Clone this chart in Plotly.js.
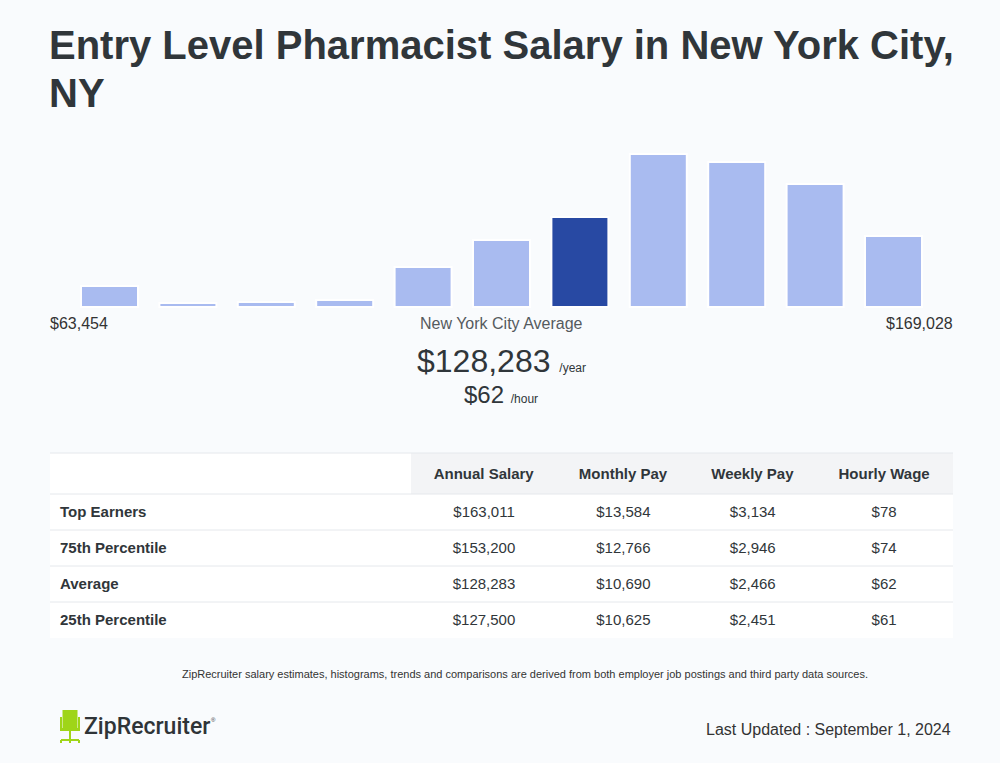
<!DOCTYPE html>
<html>
<head>
<meta charset="utf-8">
<script src="https://cdn.plot.ly/plotly-3.0.1.min.js"></script>
<style>
  html, body { margin: 0; padding: 0; background: #f9fbfd; }
  #chart { width: 1000px; height: 763px; }
</style>
</head>
<body>
<div id="chart"></div>
<script>
// ---- Data ----
const binIndex = [0,1,2,3,4,5,6,7,8,9,10];
const binHeights = [21, 4, 5, 7, 40, 67, 90, 153, 145, 123, 71];
const averageBin = 6;
const minLabel = "$63,454";
const maxLabel = "$169,028";
const avgLabel = "New York City Average";
const annualAvg = "$128,283";
const hourlyAvg = "$62";

const tableHeader = ["", "Annual Salary", "Monthly Pay", "Weekly Pay", "Hourly Wage"];
const rowLabels = ["Top Earners", "75th Percentile", "Average", "25th Percentile"];
const annualCol = ["$163,011", "$153,200", "$128,283", "$127,500"];
const monthlyCol = ["$13,584", "$12,766", "$10,690", "$10,625"];
const weeklyCol = ["$3,134", "$2,946", "$2,466", "$2,451"];
const hourlyCol = ["$78", "$74", "$62", "$61"];

const titleLines = ["Entry Level Pharmacist Salary in New York City,", "NY"];
const footnote = "ZipRecruiter salary estimates, histograms, trends and comparisons are derived from both employer job postings and third party data sources.";
const updated = "Last Updated : September 1, 2024";

// ---- Helpers (pixel -> paper) ----
const W = 1000, H = 763;
const px = x => x / W;
const py = y => 1 - y / H;

const FONT = "Liberation Sans, Arial, Helvetica, sans-serif";
const DARK = "#30363a";

const barColors = binIndex.map(i => i === averageBin ? "#2849a3" : "#a9bbf0");

const bars = {
  type: "bar",
  x: binIndex,
  y: binHeights,
  marker: { color: barColors, line: { color: "#ffffff", width: 2 } },
  hoverinfo: "skip",
  xaxis: "x", yaxis: "y"
};

const TSHIFT = 4;
const table = {
  type: "table",
  domain: { x: [px(52), px(953)], y: [py(638 + TSHIFT), py(453 + TSHIFT)] },
  columnwidth: [359, 147, 132, 127, 136],
  header: {
    values: tableHeader.map(v => v ? "<b>" + v + "</b>" : ""),
    align: ["left", "center", "center", "center", "center"],
    fill: { color: "rgba(0,0,0,0)" },
    line: { width: 0, color: "rgba(0,0,0,0)" },
    font: { family: FONT, size: 15, color: DARK },
    height: 41
  },
  cells: {
    values: [rowLabels, annualCol, monthlyCol, weeklyCol, hourlyCol],
    align: ["left", "center", "center", "center", "center"],
    fill: { color: "rgba(0,0,0,0)" },
    line: { width: 0, color: "rgba(0,0,0,0)" },
    font: { family: FONT, size: 15, color: DARK, weight: ["bold", "normal", "normal", "normal", "normal"] },
    height: 36
  }
};

const shapes = [];
// table backgrounds
shapes.push({ type: "rect", xref: "paper", yref: "paper", layer: "below",
  x0: px(50), x1: px(953), y0: py(638), y1: py(453), fillcolor: "#ffffff", line: { width: 0 } });
shapes.push({ type: "rect", xref: "paper", yref: "paper", layer: "below",
  x0: px(411), x1: px(953), y0: py(494), y1: py(453), fillcolor: "#f3f4f6", line: { width: 0 } });
// table horizontal rules
[453, 494, 530, 566, 602].forEach(y => {
  shapes.push({ type: "line", xref: "paper", yref: "paper",
    x0: px(50), x1: px(953), y0: py(y), y1: py(y),
    line: { color: "#e5e8ec", width: 1 }, layer: "below" });
});

// ZipRecruiter chair logo
const G = "#9fd518";
const rect = (x0, y0, x1, y1) => shapes.push({ type: "rect", xref: "paper", yref: "paper",
  x0: px(x0), x1: px(x1), y0: py(y1), y1: py(y0), fillcolor: G, line: { width: 0 } });
rect(62.5, 710, 77.5, 728);     // back
rect(60, 717, 62, 730);         // left arm
rect(78, 717, 80, 730);         // right arm
rect(60, 728, 80, 731);         // seat
rect(69, 731, 71, 740);         // stem
rect(61, 739, 79, 741);         // base
rect(60, 740, 62, 743);
rect(78, 740, 80, 743);
rect(69, 740, 71, 743);

const ann = (text, x, y, opts) => Object.assign({
  text, x: px(x), y: py(y), xref: "paper", yref: "paper", showarrow: false,
  xanchor: "center", yanchor: "middle",
  font: { family: FONT, size: 16, color: DARK }
}, opts || {});

const annotations = [
  ann(titleLines[0], 47, 45, { xanchor: "left", font: { family: FONT, size: 40, color: DARK, weight: "bold" } }),
  ann(titleLines[1], 47, 93, { xanchor: "left", font: { family: FONT, size: 40, color: DARK, weight: "bold" } }),
  ann(minLabel, 48, 324, { xanchor: "left", font: { family: FONT, size: 16, color: "#333333" } }),
  ann(avgLabel, 501, 324, { font: { family: FONT, size: 16, color: "#555a5e" } }),
  ann(maxLabel, 955, 324, { xanchor: "right", font: { family: FONT, size: 16, color: "#333333" } }),
  ann(annualAvg + " <span style='font-size:12px'>/year</span>", 501, 361, { font: { family: FONT, size: 32, color: DARK } }),
  ann(hourlyAvg + " <span style='font-size:12px'>/hour</span>", 501, 394, { font: { family: FONT, size: 24, color: DARK } }),
  ann(footnote, 525, 674, { font: { family: FONT, size: 11, color: "#333333" } }),
  ann(updated, 953, 729, { xanchor: "right", font: { family: FONT, size: 16, color: "#333333" } }),
  ann("ZipRecruiter", 82, 726, { xanchor: "left", font: { family: "Roboto, sans-serif", size: 23, color: "#2f3437", weight: 500 } }),
  ann("®", 209, 720, { xanchor: "left", font: { family: FONT, size: 6, color: "#2f3437" } })
];

const layout = {
  width: W, height: H,
  margin: { l: 0, r: 0, t: 0, b: 0 },
  paper_bgcolor: "#f9fbfd",
  plot_bgcolor: "rgba(0,0,0,0)",
  showlegend: false,
  bargap: 0.273,
  xaxis: { domain: [px(70.3), px(932.7)], range: [-0.5, 10.5], visible: false, fixedrange: true },
  yaxis: { domain: [py(309), py(149)], range: [-2, 158], visible: false, fixedrange: true },
  shapes, annotations
};

Plotly.newPlot("chart", [bars, table], layout, { displayModeBar: false, staticPlot: true });
</script>
</body>
</html>
